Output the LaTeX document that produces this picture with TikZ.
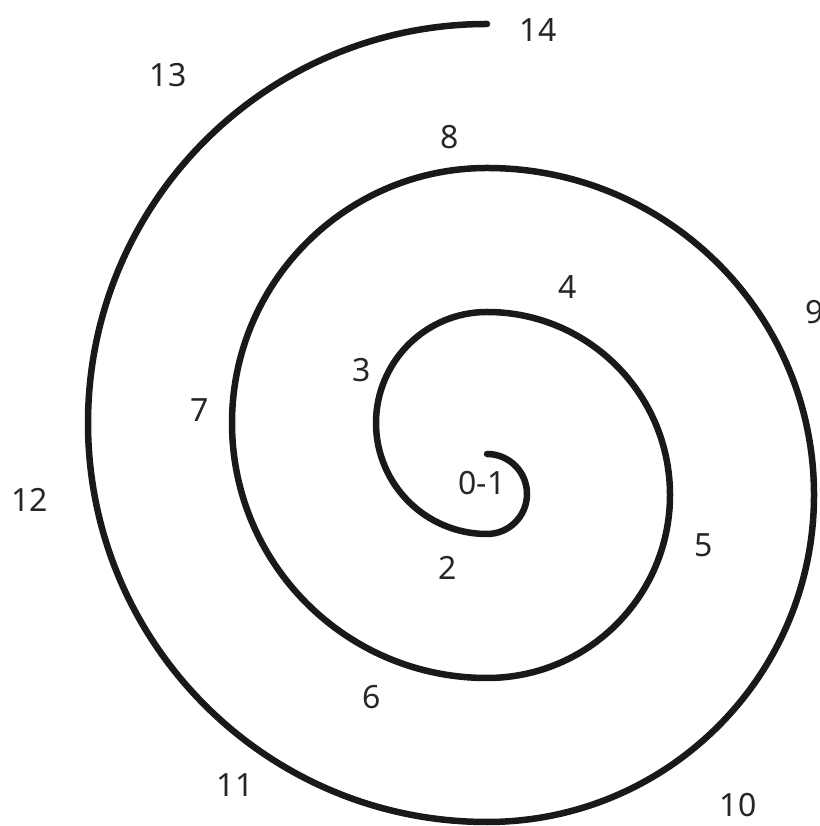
\documentclass[tikz,border=0pt]{standalone}
\usepackage{fontspec}
\setmainfont{Noto Sans}
\begin{document}
\begin{tikzpicture}[x=1pt,y=1pt,
  lbl/.style={font=\fontsize{32}{34}\selectfont, text=black!85, inner sep=0pt},
  spiral/.style={line width=6.5pt, line cap=round, draw=black!90}]
\useasboundingbox (0,0) rectangle (819,826);
\coordinate (s) at (487,372);
\draw[spiral] (s)
  arc[start angle=90,end angle=-90,radius=40]
  arc[start angle=270,end angle=90,radius=111]
  arc[start angle=90,end angle=-90,radius=183]
  arc[start angle=270,end angle=90,radius=255]
  arc[start angle=90,end angle=-90,radius=327]
  arc[start angle=270,end angle=90,radius=399];
\node[lbl] (n14) at (538,796) {14};
\node[lbl] (n13) at (168,751) {13};
\node[lbl] (n8) at (450,689) {8};
\node[lbl] (n4) at (568,539) {4};
\node[lbl] (n9) at (815,514) {9};
\node[lbl] (n3) at (362,456) {3};
\node[lbl] (n7) at (200,416) {7};
\node[lbl] (n12) at (30,326) {12};
\node[lbl] (n01) at (482,343) {0-1};
\node[lbl] (n5) at (704,281) {5};
\node[lbl] (n2) at (448,258) {2};
\node[lbl] (n6) at (372,129) {6};
\node[lbl] (n11) at (235,41) {11};
\node[lbl] (n10) at (738,21) {10};
\end{tikzpicture}
\end{document}
